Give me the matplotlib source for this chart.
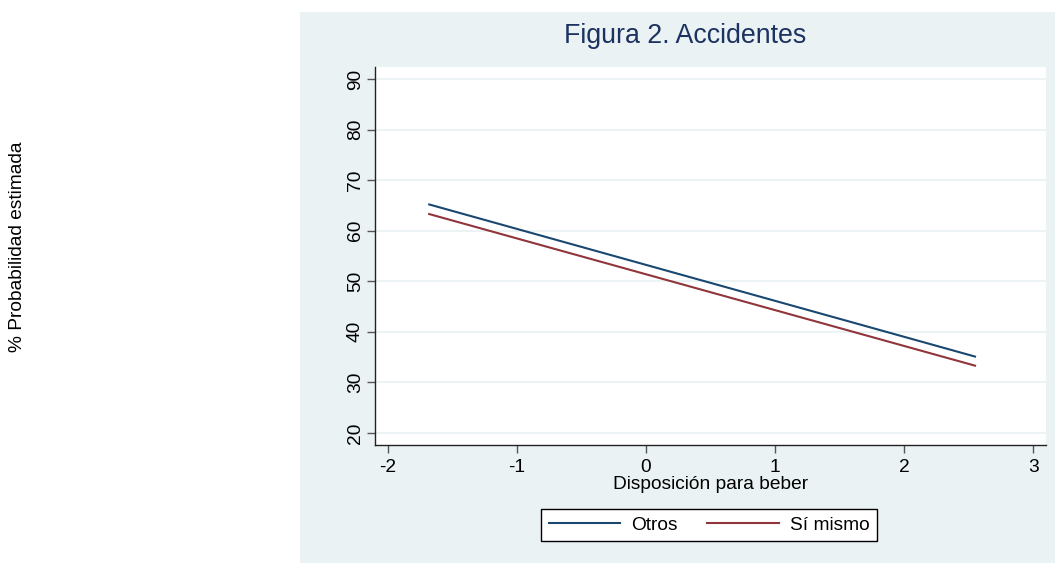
import matplotlib
matplotlib.use("Agg")
import matplotlib.pyplot as plt
from matplotlib.patches import Rectangle

plt.rcParams["font.family"] = ["Liberation Sans", "DejaVu Sans"]

# Predicted probability (%) at the ends of the observed range
disposicion = [-1.68, 2.55]
otros = [65.2, 35.1]
si_mismo = [63.3, 33.3]

series_labels = ["Otros", "Sí mismo"]
series_colors = ["#1a476f", "#90353b"]

y_ticks = [20, 30, 40, 50, 60, 70, 80, 90]
x_ticks = [-2, -1, 0, 1, 2, 3]

W, H = 1055, 563
BG = "#eaf2f3"
FS = 13.8

fig = plt.figure(figsize=(W / 100, H / 100), dpi=100)
fig.patch.set_facecolor("white")

# light panel behind the graph region
fig.patches.append(Rectangle((300 / W, 0), 1 - 300 / W, (H - 12) / H,
                             transform=fig.transFigure, facecolor=BG,
                             edgecolor="none", zorder=-10))

ax = fig.add_axes([375 / W, (H - 445) / H, (1046 - 375) / W, (445 - 67) / H])
ax.set_zorder(1)
ax.set_facecolor("white")

for ys, lab, col in zip([otros, si_mismo], series_labels, series_colors):
    ax.plot(disposicion, ys, color=col, lw=1.5, label=lab, zorder=3)

ax.set_xlim(-2.1, 3.1)
ax.set_ylim(17.6, 92.4)
ax.set_xticks(x_ticks)
ax.set_yticks(y_ticks)
ax.set_xticklabels([str(v) for v in x_ticks])
ax.set_yticklabels([str(v) for v in y_ticks])

ax.grid(True, axis="y", color=BG, lw=1.3, zorder=1)
ax.set_axisbelow(True)

for side in ["top", "right"]:
    ax.spines[side].set_visible(False)
for side in ["left", "bottom"]:
    ax.spines[side].set_color("#222222")
    ax.spines[side].set_linewidth(1.0)

ax.tick_params(axis="both", direction="out", length=6, width=1.0,
               color="#555555", labelsize=FS, labelcolor="black", pad=2)
ax.tick_params(axis="x", pad=4)
ax.tick_params(axis="y", labelrotation=90)
for t in ax.get_yticklabels():
    t.set_va("center")

ax.set_xlabel("Disposición para beber", fontsize=FS, labelpad=0)

fig.text(685 / W, 1 - 36 / H, "Figura 2. Accidentes", ha="center",
         va="center", fontsize=19.3, color="#1c3260")
fig.text(18 / W, 1 - 247 / H, "% Probabilidad estimada", rotation=90,
         ha="center", va="center", fontsize=FS)

leg = fig.legend(loc="center", bbox_to_anchor=(709 / W, 1 - 525 / H),
                 ncol=2, fontsize=FS, frameon=True, fancybox=False,
                 handlelength=3.75, columnspacing=1.55, handletextpad=0.55,
                 borderpad=0.4, borderaxespad=0)
leg.get_frame().set_edgecolor("black")
leg.get_frame().set_linewidth(1.0)
leg.get_frame().set_facecolor("white")
leg.get_frame().set_alpha(1.0)

fig.savefig("out.png", dpi=100, facecolor="white")
